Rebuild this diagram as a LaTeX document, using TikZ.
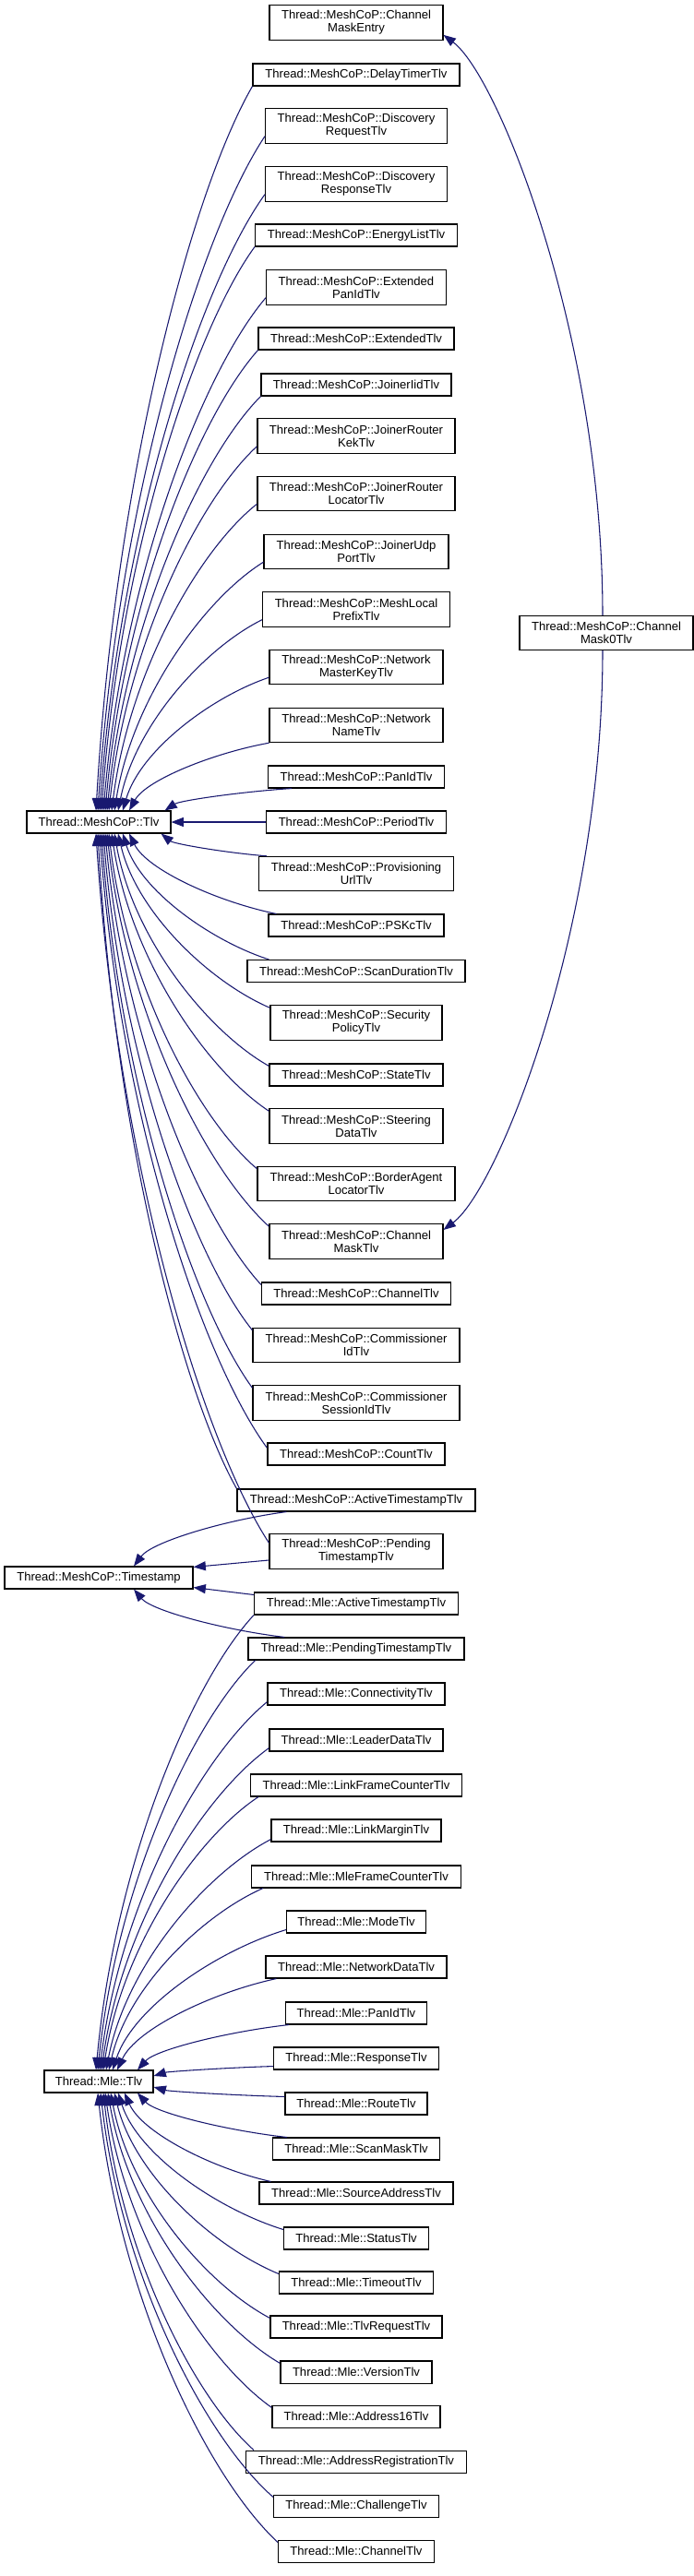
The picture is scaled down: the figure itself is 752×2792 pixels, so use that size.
\documentclass[tikz,border=0pt]{standalone}
\usepackage{fontspec}
\setmainfont{Liberation Sans}
\usetikzlibrary{arrows.meta,calc}
\definecolor{edgeblue}{HTML}{191970}
\tikzset{
  cls/.style={draw=black, line width=0.8pt, fill=white, inner sep=0pt, align=center,
    font=\fontsize{9.8pt}{10.5pt}\selectfont, minimum height=18pt},
  clsb/.style={cls, minimum height=28pt},
  edge/.style={draw=edgeblue, line width=0.8pt, -{Triangle[length=10pt,width=7.5pt]}},
}
\newcommand\cn[6]{\node[#1, minimum width={#5*0.75pt}] (#2) at (#3,#4) {#6};}
\newcommand\ed[2]{\draw[edge] let \p1=(#1), \p2=(#2) in (\p1) .. controls ({\x1+0.4*(\x2-\x1)},{\y1+0.15*(\y2-\y1)}) and ({\x2+0.12*(\x1-\x2)},{\y2+0.45*(\y1-\y2)}) .. (\p2);}
\begin{document}
\begin{tikzpicture}[x=0.75pt,y=-0.75pt]
\useasboundingbox (0,0) rectangle (752,2792);
% ---- nodes ----
\cn{clsb}{entry}{386}{24.5}{188}{Thread::MeshCoP::Channel\\MaskEntry}
\cn{cls}{delay}{386}{81}{224}{Thread::MeshCoP::DelayTimerTlv}
\cn{clsb}{discreq}{386}{136.5}{197}{Thread::MeshCoP::Discovery\\RequestTlv}
\cn{clsb}{discresp}{386}{199.5}{197}{Thread::MeshCoP::Discovery\\ResponseTlv}
\cn{cls}{energy}{386}{255}{219}{Thread::MeshCoP::EnergyListTlv}
\cn{clsb}{extpanid}{386}{311.5}{195}{Thread::MeshCoP::Extended\\PanIdTlv}
\cn{cls}{extended}{386}{367}{212}{Thread::MeshCoP::ExtendedTlv}
\cn{cls}{joinerid}{386}{417}{206}{Thread::MeshCoP::JoinerIidTlv}
\cn{clsb}{jrkek}{386}{472.5}{214}{Thread::MeshCoP::JoinerRouter\\KekTlv}
\cn{clsb}{jrloc}{386}{535}{214}{Thread::MeshCoP::JoinerRouter\\LocatorTlv}
\cn{clsb}{joinerudp}{386}{598}{200}{Thread::MeshCoP::JoinerUdp\\PortTlv}
\cn{clsb}{meshlocal}{386}{660.5}{203}{Thread::MeshCoP::MeshLocal\\PrefixTlv}
\cn{clsb}{netmaster}{386}{723}{188}{Thread::MeshCoP::Network\\MasterKeyTlv}
\cn{clsb}{netname}{386}{786}{188}{Thread::MeshCoP::Network\\NameTlv}
\cn{cls}{panid}{386}{842}{191}{Thread::MeshCoP::PanIdTlv}
\cn{cls}{tlv}{107}{891}{156}{Thread::MeshCoP::Tlv}
\cn{cls}{period}{386}{891}{195}{Thread::MeshCoP::PeriodTlv}
\cn{clsb}{mask0}{657}{686}{188}{Thread::MeshCoP::Channel\\Mask0Tlv}
\cn{clsb}{prov}{386}{947}{211}{Thread::MeshCoP::Provisioning\\UrlTlv}
\cn{cls}{pskc}{386}{1003}{190}{Thread::MeshCoP::PSKcTlv}
\cn{cls}{scandur}{386}{1052.5}{236}{Thread::MeshCoP::ScanDurationTlv}
\cn{clsb}{secpol}{386}{1108.5}{186}{Thread::MeshCoP::Security\\PolicyTlv}
\cn{cls}{state}{386}{1165}{188}{Thread::MeshCoP::StateTlv}
\cn{clsb}{steering}{386}{1220.5}{188}{Thread::MeshCoP::Steering\\DataTlv}
\cn{clsb}{border}{386}{1283}{214}{Thread::MeshCoP::BorderAgent\\LocatorTlv}
\cn{clsb}{chmask}{386}{1345.5}{188}{Thread::MeshCoP::Channel\\MaskTlv}
\cn{cls}{channel}{386}{1402}{205}{Thread::MeshCoP::ChannelTlv}
\cn{clsb}{commid}{386}{1458}{224}{Thread::MeshCoP::Commissioner\\IdTlv}
\cn{clsb}{commsess}{386}{1520.5}{224}{Thread::MeshCoP::Commissioner\\SessionIdTlv}
\cn{cls}{count}{386}{1576}{192}{Thread::MeshCoP::CountTlv}
\cn{cls}{mcactive}{386}{1626}{258}{Thread::MeshCoP::ActiveTimestampTlv}
\cn{clsb}{mcpending}{386}{1681.5}{188}{Thread::MeshCoP::Pending\\TimestampTlv}
\cn{cls}{timestamp}{107}{1710}{204}{Thread::MeshCoP::Timestamp}
\cn{cls}{mleactive}{386}{1738}{221}{Thread::Mle::ActiveTimestampTlv}
\cn{cls}{mlepending}{386}{1787}{234}{Thread::Mle::PendingTimestampTlv}
\cn{cls}{connectivity}{386}{1836}{192}{Thread::Mle::ConnectivityTlv}
\cn{cls}{leader}{386}{1886}{188}{Thread::Mle::LeaderDataTlv}
\cn{cls}{linkframe}{386}{1935}{229}{Thread::Mle::LinkFrameCounterTlv}
\cn{cls}{linkmargin}{386}{1984}{184}{Thread::Mle::LinkMarginTlv}
\cn{cls}{mleframe}{386}{2034}{227}{Thread::Mle::MleFrameCounterTlv}
\cn{cls}{mode}{386}{2083}{151}{Thread::Mle::ModeTlv}
\cn{cls}{netdata}{386}{2132}{196}{Thread::Mle::NetworkDataTlv}
\cn{cls}{mlepanid}{386}{2182}{153}{Thread::Mle::PanIdTlv}
\cn{cls}{response}{386}{2231}{179}{Thread::Mle::ResponseTlv}
\cn{cls}{mletlv}{107}{2256}{118}{Thread::Mle::Tlv}
\cn{cls}{route}{386}{2280}{154}{Thread::Mle::RouteTlv}
\cn{cls}{scanmask}{386}{2329}{181}{Thread::Mle::ScanMaskTlv}
\cn{cls}{srcaddr}{386}{2377}{210}{Thread::Mle::SourceAddressTlv}
\cn{cls}{status}{386}{2426}{157}{Thread::Mle::StatusTlv}
\cn{cls}{timeout}{386}{2474}{167}{Thread::Mle::TimeoutTlv}
\cn{cls}{tlvreq}{386}{2522}{186}{Thread::Mle::TlvRequestTlv}
\cn{cls}{version}{386}{2571}{164}{Thread::Mle::VersionTlv}
\cn{cls}{addr16}{386}{2619}{182}{Thread::Mle::Address16Tlv}
\cn{cls}{addrreg}{386}{2668}{239}{Thread::Mle::AddressRegistrationTlv}
\cn{cls}{challenge}{386}{2716}{179}{Thread::Mle::ChallengeTlv}
\cn{cls}{mlechannel}{386}{2765}{169}{Thread::Mle::ChannelTlv}
% ---- MeshCoP::Tlv edges ----
\ed{delay.south west}{[xshift=-2.25pt]tlv.north}
\ed{[yshift=6pt]discreq.south west}{[xshift=-0.75pt]tlv.north}
\ed{[yshift=6pt]discresp.south west}{[xshift=0.75pt]tlv.north}
\ed{energy.south west}{[xshift=2.25pt]tlv.north}
\ed{[yshift=6pt]extpanid.south west}{[xshift=3.75pt]tlv.north}
\ed{extended.south west}{[xshift=5.25pt]tlv.north}
\ed{joinerid.south west}{[xshift=6.75pt]tlv.north}
\ed{[yshift=6pt]jrkek.south west}{[xshift=8.25pt]tlv.north}
\ed{[yshift=6pt]jrloc.south west}{[xshift=10.5pt]tlv.north}
\ed{[yshift=6pt]joinerudp.south west}{[xshift=12.75pt]tlv.north}
\ed{[yshift=6pt]meshlocal.south west}{[xshift=15.75pt]tlv.north}
\ed{[yshift=6pt]netmaster.south west}{[xshift=19.5pt]tlv.north}
\ed{netname.south west}{[xshift=24.75pt]tlv.north}
\ed{[xshift=19.5pt]panid.south west}{[xshift=-5.25pt]tlv.north east}
\draw[edge] (period.west) -- (tlv.east);
\ed{[xshift=6.75pt]prov.north west}{[xshift=-8.25pt]tlv.south east}
\ed{[xshift=6.75pt]pskc.north west}{[xshift=24.75pt]tlv.south}
\ed{[xshift=18pt]scandur.north west}{[xshift=19.5pt]tlv.south}
\ed{[yshift=-2.25pt]secpol.north west}{[xshift=15.75pt]tlv.south}
\ed{[yshift=-2.25pt]state.north west}{[xshift=12.75pt]tlv.south}
\ed{[yshift=-2.25pt]steering.north west}{[xshift=10.5pt]tlv.south}
\ed{[yshift=-2.25pt]border.north west}{[xshift=8.25pt]tlv.south}
\ed{[yshift=-2.25pt]chmask.north west}{[xshift=6.75pt]tlv.south}
\ed{[yshift=-2.25pt]channel.north west}{[xshift=5.25pt]tlv.south}
\ed{[yshift=-2.25pt]commid.north west}{[xshift=3.75pt]tlv.south}
\ed{[yshift=-2.25pt]commsess.north west}{[xshift=2.25pt]tlv.south}
\ed{[yshift=-4.5pt]count.north west}{[xshift=0.75pt]tlv.south}
\ed{mcactive.north west}{[xshift=-0.75pt]tlv.south}
\ed{[yshift=-7.5pt]mcpending.north west}{[xshift=-2.25pt]tlv.south}
% ---- ChannelMask edges ----
\draw[edge] ([xshift=-3pt]mask0.north) .. controls +(0,-300) and +(60,45) .. ([yshift=-10pt]entry.east);
\draw[edge] ([xshift=-3pt]mask0.south) .. controls +(0,300) and +(60,-45) .. ([yshift=9.4pt]chmask.east);
% ---- Timestamp edges ----
\ed{[xshift=40.5pt]mcactive.south west}{[xshift=28.5pt]timestamp.north}
\draw[edge] ([yshift=-7.1pt]mcpending.west) -- ([yshift=-0.75pt]timestamp.north east);
\draw[edge] ([yshift=-2.25pt]mleactive.north west) -- ([yshift=1.5pt]timestamp.south east);
\ed{[xshift=30pt]mlepending.north west}{[xshift=28.5pt]timestamp.south}
% ---- Mle::Tlv edges ----
\ed{mleactive.south west}{[xshift=-2.25pt]mletlv.north}
\ed{[xshift=6pt]mlepending.south west}{[xshift=-0.75pt]mletlv.north}
\ed{[yshift=3pt]connectivity.south west}{[xshift=0.75pt]mletlv.north}
\ed{[yshift=3pt]leader.south west}{[xshift=2.25pt]mletlv.north}
\ed{[xshift=6.75pt]linkframe.south west}{[xshift=3.75pt]mletlv.north}
\ed{[yshift=2.25pt]linkmargin.south west}{[xshift=6pt]mletlv.north}
\ed{[xshift=9.75pt]mleframe.south west}{[xshift=8.25pt]mletlv.north}
\ed{[yshift=3pt]mode.south west}{[xshift=11.25pt]mletlv.north}
\ed{[xshift=9pt]netdata.south west}{[xshift=15pt]mletlv.north}
\ed{[xshift=3pt]mlepanid.south west}{[xshift=31.5pt]mletlv.north}
\ed{[yshift=3pt]response.south west}{[yshift=4.5pt]mletlv.east}
\ed{[yshift=-3.75pt]route.north west}{[yshift=-4.5pt]mletlv.east}
\ed{[xshift=12pt]scanmask.north west}{[xshift=31.5pt]mletlv.south}
\ed{[xshift=9.75pt]srcaddr.north west}{[xshift=21pt]mletlv.south}
\ed{[yshift=-2.25pt]status.north west}{[xshift=15.75pt]mletlv.south}
\ed{[yshift=-2.25pt]timeout.north west}{[xshift=12.75pt]mletlv.south}
\ed{[yshift=-2.25pt]tlvreq.north west}{[xshift=9.75pt]mletlv.south}
\ed{[yshift=-2.25pt]version.north west}{[xshift=7.5pt]mletlv.south}
\ed{[yshift=-2.25pt]addr16.north west}{[xshift=5.25pt]mletlv.south}
\ed{[xshift=6.75pt]addrreg.north west}{[xshift=3.75pt]mletlv.south}
\ed{[yshift=-2.25pt]challenge.north west}{[xshift=1.5pt]mletlv.south}
\ed{[yshift=-2.25pt]mlechannel.north west}{[xshift=-0.75pt]mletlv.south}
\end{tikzpicture}
\end{document}
